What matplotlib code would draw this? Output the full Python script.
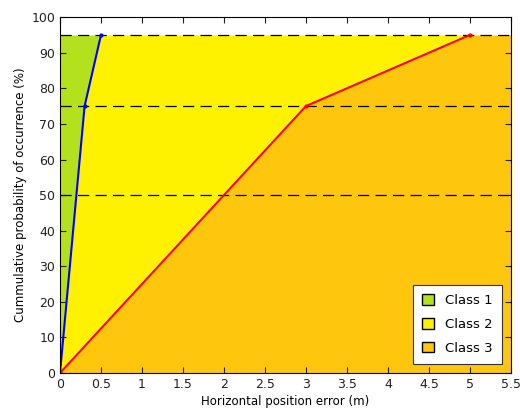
import matplotlib.pyplot as plt
import numpy as np
from matplotlib.patches import Patch

# cumulative probability levels (%)
prob = [0, 75, 95]
class1_err = [0, 0.3, 0.5]
class2_err = [0, 3, 5]
x_max = 5.5
ref_levels = [50, 75, 95]

c_green = "#b4e11e"
c_yellow = "#fff200"
c_orange = "#ffc60e"

fig = plt.figure(figsize=(5.2, 4.09), dpi=100)
ax = fig.add_axes([0.1154, 0.088, 0.867, 0.870])

y = np.array(prob)
ax.fill_betweenx(y, 0, class1_err, color=c_green, lw=0)
ax.fill_betweenx(y, class1_err, class2_err, color=c_yellow, lw=0)
ax.fill_betweenx(y, class2_err, x_max, color=c_orange, lw=0)

for lv in ref_levels:
    ax.axhline(lv, color="black", lw=0.9, dashes=(9, 5))

ax.plot(class1_err, prob, color="#0000ff", lw=1.5, marker=".", ms=4)
ax.plot(class2_err, prob, color="#ff0000", lw=1.5, marker=".", ms=4)

ax.set_xlim(0, x_max)
ax.set_ylim(0, 100)
ax.set_xticks(np.arange(0, 5.51, 0.5))
ax.set_xticklabels(["0", "0.5", "1", "1.5", "2", "2.5", "3", "3.5", "4", "4.5", "5", "5.5"])
ax.set_yticks(np.arange(0, 101, 10))
ax.tick_params(direction="in", top=True, right=True, labelsize=9, colors="#222222", length=4)
ax.set_xlabel("Horizontal position error (m)", fontsize=8.5, labelpad=3)
ax.set_ylabel("Cummulative probability of occurrence (%)", fontsize=8.5, labelpad=3)

handles = [Patch(facecolor=c, edgecolor="black", label=l)
           for c, l in [(c_green, "Class 1"), (c_yellow, "Class 2"), (c_orange, "Class 3")]]
leg = ax.legend(handles=handles, loc="lower right", fontsize=9.5, fancybox=False,
                framealpha=1, edgecolor="#333333", handlelength=0.9, handleheight=0.9,
                borderaxespad=0.7, labelspacing=0.8, borderpad=0.7, handletextpad=0.8)
leg.get_frame().set_linewidth(0.8)

fig.savefig("out.png", dpi=100)
